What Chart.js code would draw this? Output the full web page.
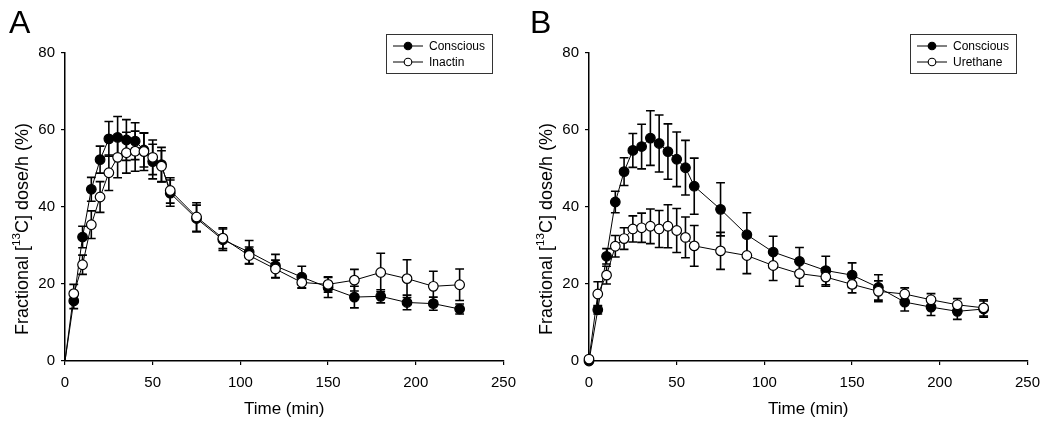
<!DOCTYPE html>
<html><head><meta charset="utf-8">
<script src="https://cdn.jsdelivr.net/npm/chart.js@4.4.1/dist/chart.umd.min.js"></script>
<style>
html,body{margin:0;padding:0;background:#fff;}
#wrap{position:relative;width:1050px;height:422px;overflow:hidden;}
.panel{position:absolute;top:0;width:525px;height:422px;}
</style></head><body>
<div id="wrap">
<div class="panel" style="left:0"><canvas id="cA" width="525" height="422"></canvas></div>
<div class="panel" style="left:524px"><canvas id="cB" width="525" height="422"></canvas></div>
</div>
<script>
// ---- data ----
const times = [0,5,10,15,20,25,30,35,40,45,50,55,60,75,90,105,120,135,150,165,180,195,210,225];
const xTicks = [0,50,100,150,200,250];
const yTicks = [0,20,40,60,80];

const consciousA    = [0,15.6,32.2,44.6,52.3,57.7,58.1,57.4,57.1,54.8,51.8,51.0,43.6,37.0,31.5,28.3,24.7,21.8,19.1,16.6,16.8,15.2,14.9,13.5];
const consciousAErr = [0,2.0,2.8,3.1,3.5,4.5,5.4,5.3,4.8,4.4,4.5,4.5,3.4,3.5,2.8,3.0,3.0,2.8,2.6,2.8,1.7,1.9,1.7,1.3];
const inactinA      = [0,17.5,25.0,35.4,42.6,48.9,52.9,54.1,54.5,54.4,52.9,50.6,44.3,37.4,31.9,27.4,23.9,20.4,19.9,21.0,23.0,21.4,19.4,19.8];
const inactinAErr   = [0,2.4,2.5,3.6,4.0,4.6,5.3,5.3,5.2,4.9,4.5,4.0,3.3,3.7,2.7,2.2,2.3,1.5,2.0,2.8,5.0,4.9,3.9,4.1];

const consciousB    = [0,13.3,27.2,41.3,49.2,54.7,55.7,57.9,56.5,54.4,52.4,50.2,45.4,39.4,32.8,28.3,25.9,23.5,22.3,19.1,15.3,14.0,12.9,13.5];
const consciousBErr = [0,1.1,2.0,2.8,3.6,4.4,5.8,7.1,7.4,7.2,7.1,7.1,7.3,6.9,5.7,4.1,3.6,3.7,3.2,3.3,2.3,2.2,2.1,2.1];
const urethaneB     = [0.5,17.4,22.3,29.8,31.8,34.3,34.6,35.0,34.3,35.0,33.9,32.1,29.9,28.6,27.4,24.8,22.7,21.8,19.9,18.1,17.4,15.9,14.6,13.8];
const urethaneBErr  = [0,3.2,2.3,2.8,2.8,3.4,3.8,4.5,4.8,5.6,5.7,5.3,5.3,4.8,4.7,3.9,3.3,2.4,2.2,2.7,1.6,1.6,1.6,2.1];

const FONT = "'Liberation Sans', Arial, Helvetica, sans-serif";

function makeDataset(label, values, errs, filled, order, hideZero) {
  return {
    label: label,
    data: times.map((t,i)=>({x:t, y:values[i]})),
    errors: errs,
    filled: filled,
    borderColor: '#000',
    borderWidth: 1,
    backgroundColor: filled ? '#000' : '#fff',
    pointBackgroundColor: filled ? '#000' : '#fff',
    pointBorderColor: '#000',
    pointBorderWidth: 1.2,
    pointRadius: ctx => (hideZero && ctx.parsed && ctx.parsed.x === 0) ? 0 : 4.8,
    tension: 0,
    clip: false,
    order: order
  };
}

const errorBarPlugin = {
  id: 'errorBars',
  beforeDatasetsDraw(chart) {
    const ctx = chart.ctx, xs = chart.scales.x, ys = chart.scales.y;
    ctx.save();
    ctx.strokeStyle = '#000';
    ctx.lineWidth = 1.6;
    chart.data.datasets.forEach(ds => {
      ds.data.forEach((p,i) => {
        const e = ds.errors[i];
        if (!e) return;
        const x = xs.getPixelForValue(p.x);
        const y1 = ys.getPixelForValue(p.y + e);
        const y2 = ys.getPixelForValue(p.y - e);
        ctx.beginPath();
        ctx.moveTo(x, y1); ctx.lineTo(x, y2);
        ctx.moveTo(x-4.4, y1); ctx.lineTo(x+4.4, y1);
        ctx.moveTo(x-4.4, y2); ctx.lineTo(x+4.4, y2);
        ctx.stroke();
      });
    });
    ctx.restore();
  }
};

const decorPlugin = {
  id: 'decor',
  afterDraw(chart, args, opts) {
    const ctx = chart.ctx;
    ctx.save();
    // panel letter
    ctx.fillStyle = '#000';
    ctx.font = '32px ' + FONT;
    ctx.textBaseline = 'alphabetic';
    ctx.textAlign = 'left';
    ctx.fillText(opts.letter, opts.letterX, 33);
    // y-axis title with superscript
    ctx.translate(23, 229);
    ctx.rotate(-Math.PI/2);
    const big = '18px ' + FONT, small = '11.5px ' + FONT;
    const p1 = 'Fractional [', p2 = '13', p3 = 'C] dose/h (%)';
    ctx.font = big; const w1 = ctx.measureText(p1).width, w3 = ctx.measureText(p3).width;
    ctx.font = small; const w2 = ctx.measureText(p2).width;
    let x0 = -(w1+w2+w3)/2;
    ctx.textBaseline = 'middle';
    ctx.font = big; ctx.fillText(p1, x0, 0);
    ctx.font = small; ctx.fillText(p2, x0+w1, -6.5);
    ctx.font = big; ctx.fillText(p3, x0+w1+w2, 0);
    ctx.restore();

    // legend
    ctx.save();
    const L = 386, T = 34, R = 492, B = 73;
    ctx.fillStyle = '#fff';
    ctx.fillRect(L, T, R-L, B-T);
    ctx.strokeStyle = '#333';
    ctx.lineWidth = 1;
    ctx.strokeRect(L+0.5, T+0.5, R-L, B-T);
    const rows = [46, 62];
    const order = chart.data.datasets.slice().sort((a,b)=> (a.filled===b.filled)?0:(a.filled?-1:1));
    order.forEach((ds, k) => {
      const y = rows[k];
      ctx.strokeStyle = '#000'; ctx.lineWidth = 1;
      ctx.beginPath(); ctx.moveTo(393, y); ctx.lineTo(423, y); ctx.stroke();
      ctx.beginPath(); ctx.arc(408, y, 3.8, 0, Math.PI*2);
      ctx.fillStyle = ds.filled ? '#000' : '#fff'; ctx.fill();
      ctx.lineWidth = 1.1; ctx.stroke();
      ctx.fillStyle = '#000';
      ctx.font = '12px ' + FONT;
      ctx.textBaseline = 'middle';
      ctx.textAlign = 'left';
      ctx.fillText(ds.label, 429, y+0.5);
    });
    ctx.restore();
  }
};

function makeChart(id, datasets, letter, letterX) {
  const tickFont = {family: FONT, size: 15};
  return new Chart(document.getElementById(id), {
    type: 'line',
    data: { datasets: datasets },
    plugins: [errorBarPlugin, decorPlugin],
    options: {
      responsive: false,
      animation: false,
      events: [],
      layout: { padding: {top: 53, right: 20, left: 0, bottom: 0}, autoPadding: false },
      plugins: {
        legend: {display: false},
        tooltip: {enabled: false},
        decor: {letter: letter, letterX: letterX}
      },
      scales: {
        x: {
          type: 'linear', min: xTicks[0], max: xTicks[xTicks.length-1],
          afterBuildTicks: s => { s.ticks = xTicks.map(v => ({value: v})); },
          afterFit: s => { s.height = 61; },
          grid: {drawOnChartArea: false, drawTicks: true, tickLength: 4, color: '#000', lineWidth: 1.2},
          border: {display: true, color: '#000', width: 1.5},
          ticks: {color: '#000', font: tickFont, padding: 9, maxRotation: 0, autoSkip: false},
          title: {display: true, text: 'Time (min)', color: '#000', font: {family: FONT, size: 17}, padding: {top: 0, bottom: 2}}
        },
        y: {
          type: 'linear', min: yTicks[0], max: yTicks[yTicks.length-1],
          afterBuildTicks: s => { s.ticks = yTicks.map(v => ({value: v})); },
          afterFit: s => { s.width = 65; },
          grid: {drawOnChartArea: false, drawTicks: true, tickLength: 4, color: '#000', lineWidth: 1.2},
          border: {display: true, color: '#000', width: 1.5},
          ticks: {color: '#000', font: tickFont, padding: 6, autoSkip: false}
        }
      }
    }
  });
}

makeChart('cA', [
  makeDataset('Conscious', consciousA, consciousAErr, true, 2, true),
  makeDataset('Inactin', inactinA, inactinAErr, false, 1, true)
], 'A', 9);

makeChart('cB', [
  makeDataset('Conscious', consciousB, consciousBErr, true, 2, false),
  makeDataset('Urethane', urethaneB, urethaneBErr, false, 1, false)
], 'B', 6);
</script>
</body></html>
